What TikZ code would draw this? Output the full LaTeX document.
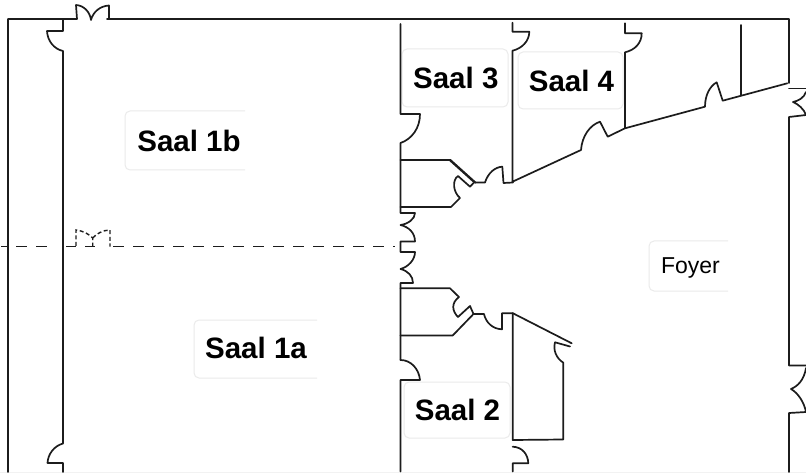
\documentclass[tikz,border=0pt]{standalone}
\usepackage{fontspec}
\setmainfont{Liberation Sans}
\definecolor{wallc}{HTML}{1C1C1C}
\definecolor{cardc}{HTML}{EBEBEB}
\tikzset{
  wall/.style={draw=wallc,line width=1.7pt,line join=round,line cap=round},
  heavy/.style={draw=wallc,line width=2.4pt,line cap=round},
  partition/.style={draw=wallc,line width=1.5pt,dash pattern=on 11pt off 9pt},
  doorghost/.style={draw=wallc,line width=1.4pt,dash pattern=on 4pt off 2.6pt},
  cardbox/.style={draw=cardc,line width=1pt,fill=white,rounded corners=5pt,inner sep=0pt},
  cardopen/.style={draw=cardc,line width=1pt,rounded corners=5pt},
  hall/.style={font=\bfseries\fontsize{29.5}{30}\selectfont,text=black,inner sep=0pt},
  lobby/.style={font=\fontsize{23}{24}\selectfont,text=black,inner sep=0pt}
}
\begin{document}
\begin{tikzpicture}[x=1pt,y=-1pt]
\useasboundingbox (0,0) rectangle (806,473);
\clip (0,0) rectangle (806,473);
\fill[white] (0,0) rectangle (806,473);
\fill[black!5] (0,472) rectangle (806,473);

% label cards
\node[cardbox,minimum width=106pt,minimum height=58pt] (c3) at (455,78) {};
\node[cardbox,minimum width=105pt,minimum height=57pt] (c4) at (570.5,80.5) {};
\node[cardbox,minimum width=106pt,minimum height=56pt] (c2) at (457,410) {};
\draw[cardopen] (245,111) -- (125,111) -- (125,170) -- (245,170);
\draw[cardopen] (317,320) -- (194,320) -- (194,378) -- (317,378);
\draw[cardopen] (728,241) -- (649,241) -- (649,291) -- (728,291);
\node[hall] (s1b) at (189,141) {Saal 1b};
\node[hall] (s1a) at (256,347.5) {Saal 1a};
\node[hall] (s3) at (455.8,77.5) {Saal 3};
\node[hall] (s4) at (571.5,81) {Saal 4};
\node[hall] (s2) at (457.5,409.5) {Saal 2};
\node[lobby] (foy) at (690.5,267.5) {Foyer};

% outer wall and top door
\draw[wall] (8,472) -- (8,19) -- (77,19) -- (76,5)
  .. controls (84,5.5) and (90,12) .. (91,20)
  .. controls (93,12) and (100,6) .. (109,5.5) -- (109,19) -- (107,19) -- (789,19) -- (789,83);
\draw[wall] (789,88.5) -- (806,88.5);
\draw[wall] (806,92) .. controls (804,98) and (798,101) .. (793,102)
  .. controls (798,104) and (804,109) .. (806,115) -- (789,117) -- (789,365.5) -- (806,365.5);
\draw[wall] (806,368) .. controls (804,380) and (798,386) .. (791,389)
  .. controls (798,393) and (804,402) .. (806,412) -- (789,413) -- (789,472);

% second wall
\draw[wall] (63,19) -- (63,31) -- (47,31)
  .. controls (47.5,41) and (54,49) .. (63,51) -- (63,443.5)
  .. controls (54,446) and (48,454) .. (47.5,463) -- (63,463) -- (63,472);

% central wall
\draw[wall] (400.5,24) -- (400.5,114) -- (420,114)
  .. controls (420,128) and (412,139) .. (400.5,143) -- (400.5,213) -- (415,213)
  .. controls (415,219) and (408,224) .. (400.5,225)
  .. controls (409,227) and (415,233) .. (415,241.5) -- (400.5,241.5) -- (400.5,252) -- (415,252)
  .. controls (415,260) and (408,267) .. (400.5,269)
  .. controls (408,271) and (413,276) .. (413,283) -- (400.5,283) -- (400.5,360);
\draw[wall] (400.5,360) .. controls (411,360) and (419,369) .. (420,380) -- (400.5,380) -- (400.5,471.5);

% upper small room
\draw[wall] (400.5,160) -- (450,160);
\draw[heavy] (450,160) -- (475,182.5);
\draw[wall] (475,182.5) -- (485,182.5)
  .. controls (488,173) and (495,167) .. (502.3,166.7) -- (503.5,183) -- (513,182.5);
\draw[wall] (473.5,183) -- (470,186.7) -- (458,176)
  .. controls (452,180) and (453,192) .. (460,198) -- (451,207) -- (400.5,207);

% lower small room
\draw[wall] (400.5,288.3) -- (450,288.3) -- (459,297)
  .. controls (451,303) and (452,311) .. (458,317) -- (470,306) -- (473.5,314) -- (452.7,335.5) -- (400.5,335.5);
\draw[wall] (473.5,314) -- (484,314)
  .. controls (486,323) and (493,329) .. (502,329.3) -- (502,313.3) -- (513,313.3);

% wall x=513 upper
\draw[wall] (512.5,22.7) -- (512.5,31.7) -- (529.3,31.7)
  .. controls (529.3,41) and (522,48.5) .. (512.5,50.7) -- (512.5,181.7)
  -- (581,150) .. controls (582,136) and (590,125) .. (600,121.7)
  -- (607.7,136.7) -- (625,128.3) -- (705,106.7)
  .. controls (705,95) and (710,86) .. (716.7,82.3)
  -- (722.7,100.7) -- (787.3,83.3);
\draw[wall] (625,23.3) -- (625,33.3) -- (641.7,33.3)
  .. controls (641.7,43) and (635,50) .. (625,52.3) -- (625,128.3);
\draw[wall] (740.7,25) -- (740.7,95.3);

% lower right block
\draw[wall] (512.7,313.3) -- (512.7,440) -- (563.3,439.5) -- (563.3,362.7)
  .. controls (556,358) and (553,350) .. (555,342.3) -- (570,346.5);
\draw[wall] (513,313.3) -- (571.7,343.3);
\draw[wall] (512.7,446.7) .. controls (522,447) and (528,454) .. (528.3,463.3)
  -- (512.7,463.3) -- (512.7,471.5);

% partition and its door
\draw[partition,dash phase=5pt] (1,246.7) -- (56,246.7);
\draw[partition] (66,246.7) -- (76,246.7);
\draw[partition] (85,246.7) -- (95,246.7);
\draw[partition] (113,246.7) -- (395,246.7);
\draw[doorghost] (76,246) -- (76,230) .. controls (84,231) and (90,235) .. (92.7,238) -- (92.7,246);
\draw[doorghost] (92.7,238) .. controls (96,234) and (103,230) .. (110,230) -- (110,246.7);
\end{tikzpicture}
\end{document}
